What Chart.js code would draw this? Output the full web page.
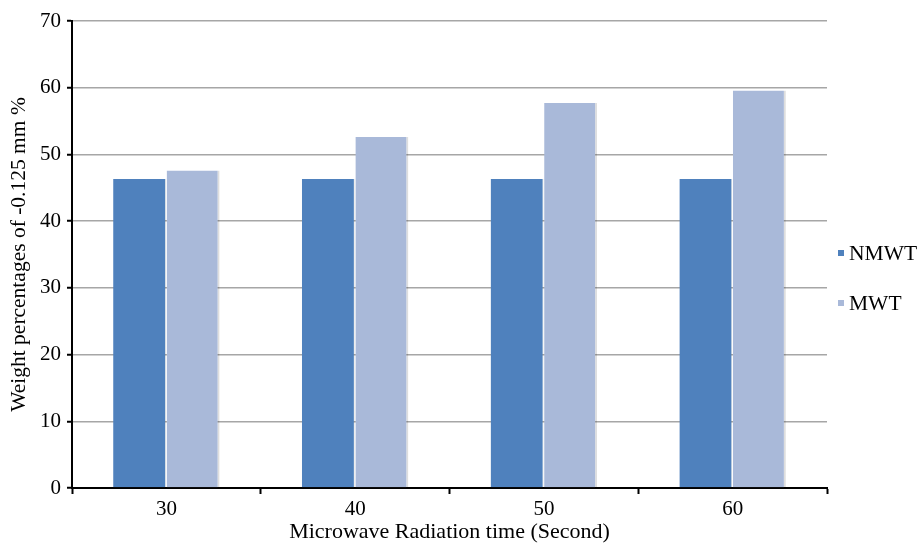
<!DOCTYPE html>
<html>
<head>
<meta charset="utf-8">
<script src="https://cdn.jsdelivr.net/npm/chart.js@4.4.1/dist/chart.umd.min.js"></script>
<style>
  html, body { margin: 0; padding: 0; background: #fff; }
  #wrap { width: 919px; height: 543px; }
</style>
</head>
<body>
<div id="wrap"><canvas id="myChart"></canvas></div>
<script>
// data
const labels = ['30', '40', '50', '60'];
const nmwt = [46.3, 46.3, 46.3, 46.3];
const mwt = [47.6, 52.6, 57.7, 59.6];
const seriesNames = ['NMWT', 'MWT'];
const colors = ['#4f81bd', '#a9b9d9'];

const serif = "'Liberation Serif', 'Times New Roman', serif";

// legend drawn at the right, like the original
const sideLegend = {
    id: 'sideLegend',
    afterDraw(chart) {
        const ctx = chart.ctx;
        const rows = [253, 303];
        ctx.save();
        ctx.font = '21.5px ' + serif;
        ctx.textBaseline = 'middle';
        chart.data.datasets.forEach((ds, i) => {
            ctx.fillStyle = ds.backgroundColor;
            ctx.fillRect(838, rows[i] - 3, 6, 6);
            ctx.fillStyle = '#000';
            ctx.fillText(ds.label, 849, rows[i] + 1);
        });
        ctx.restore();
    }
};

const ctx = document.getElementById('myChart').getContext('2d');
let myChart = new Chart(ctx, {
    type: 'bar',
    data: {
        labels: labels,
        datasets: [{
            label: seriesNames[0],
            data: nmwt,
            backgroundColor: colors[0],
            borderColor: 'rgba(0,0,0,0.10)',
            borderWidth: {right: 1},
            borderSkipped: 'bottom',
            barPercentage: 0.99,
            categoryPercentage: 0.567
        }, {
            label: seriesNames[1],
            data: mwt,
            backgroundColor: colors[1],
            borderColor: 'rgba(0,0,0,0.13)',
            borderWidth: {right: 2},
            borderSkipped: 'bottom',
            barPercentage: 0.99,
            categoryPercentage: 0.567
        }]
    },
    options: {
        responsive: true,
        maintainAspectRatio: false,
        animation: false,
        layout: { padding: { top: 21, right: 92, left: 0, bottom: 0 } },
        plugins: {
            legend: { display: false },
            tooltip: { enabled: false }
        },
        scales: {
            x: {
                afterFit(s) { s.height = 55; },
                grid: {
                    drawOnChartArea: false,
                    tickColor: '#000',
                    tickLength: 6,
                    tickWidth: 2
                },
                border: { color: '#000', width: 2 },
                ticks: {
                    color: '#000',
                    padding: 3,
                    font: { family: serif, size: 21 }
                },
                title: {
                    display: true,
                    text: 'Microwave Radiation time (Second)',
                    color: '#000',
                    padding: { top: 0, bottom: 0 },
                    font: { family: serif, size: 22, lineHeight: 1 }
                }
            },
            y: {
                min: 0,
                max: 70,
                afterFit(s) { s.width = 72; },
                grid: {
                    color: '#a6a6a6',
                    lineWidth: 1.5,
                    tickColor: '#000',
                    tickLength: 5,
                    tickWidth: 2
                },
                border: { color: '#000', width: 2 },
                ticks: {
                    stepSize: 10,
                    color: '#000',
                    padding: 6,
                    font: { family: serif, size: 21 }
                },
                title: {
                    display: true,
                    text: 'Weight percentages of -0.125 mm %',
                    color: '#000',
                    padding: { top: 6, bottom: 0 },
                    font: { family: serif, size: 21.5, lineHeight: 1.2 }
                }
            }
        }
    },
    plugins: [sideLegend]
});
</script>
</body>
</html>
